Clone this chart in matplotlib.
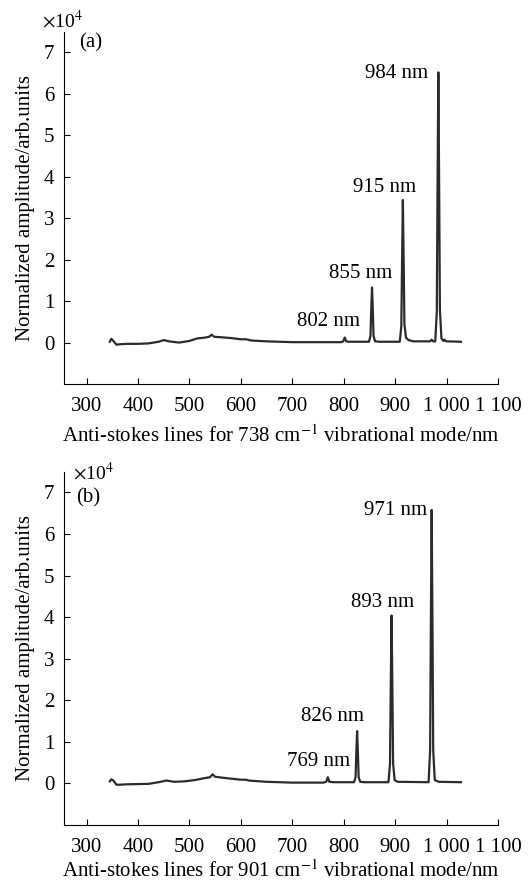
import matplotlib
matplotlib.use("Agg")
import matplotlib.pyplot as plt

plt.rcParams['font.family'] = ['Liberation Serif', 'DejaVu Serif']
plt.rcParams['mathtext.fontset'] = 'stix'

# spectrum (a), 738 cm-1 mode
xa = [345, 348, 352, 358, 365, 380, 400, 420, 440, 450, 460, 480, 500, 515, 530,
      538, 543, 548, 560, 580, 600, 610, 620, 650, 700, 750, 795, 799, 802, 805,
      810, 849, 852, 853.5, 855, 856.5, 858, 861, 870, 909, 912, 913.5, 915, 916.5,
      918, 921, 926, 935, 968, 971, 974, 978, 981, 982.5, 984, 985.5, 987, 990,
      994, 996, 999, 1028]
ya = [0.02, 0.09, 0.04, -0.05, -0.04, -0.03, -0.03, -0.02, 0.02, 0.06, 0.03, 0.0, 0.04, 0.1, 0.12,
      0.14, 0.19, 0.14, 0.13, 0.11, 0.08, 0.08, 0.05, 0.03, 0.01, 0.01, 0.01, 0.03, 0.12, 0.03,
      0.02, 0.02, 0.16, 0.8, 1.33, 0.8, 0.16, 0.03, 0.02, 0.02, 0.4, 2.0, 3.44, 2.0,
      0.45, 0.12, 0.06, 0.03, 0.03, 0.07, 0.03, 0.03, 0.75, 3.9, 6.52, 3.9, 0.8, 0.1,
      0.04, 0.07, 0.03, 0.02]

# spectrum (b), 901 cm-1 mode
xb = [345, 348, 352, 358, 365, 380, 420, 440, 455, 470, 490, 510, 530, 540, 545,
      550, 570, 600, 610, 615, 650, 700, 760, 766, 769, 772, 780, 820, 823, 824.5,
      826, 827.5, 829, 832, 840, 887, 890, 891.5, 893, 894.5, 896, 899, 905, 965,
      968, 969.5, 971, 972.5, 974, 977, 985, 1028]
yb = [0.05, 0.1, 0.07, -0.03, -0.03, -0.02, -0.01, 0.03, 0.07, 0.04, 0.05, 0.08, 0.13, 0.15, 0.22,
      0.16, 0.13, 0.09, 0.09, 0.07, 0.04, 0.02, 0.02, 0.04, 0.15, 0.04, 0.03, 0.03, 0.15, 0.75,
      1.26, 0.75, 0.15, 0.04, 0.03, 0.03, 0.48, 2.4, 4.04, 2.4, 0.48, 0.08, 0.04, 0.03,
      0.8, 3.95, 6.58, 3.95, 0.8, 0.08, 0.04, 0.03]

peaks_a = ["802 nm", "855 nm", "915 nm", "984 nm"]
peaks_b = ["769 nm", "826 nm", "893 nm", "971 nm"]

xticks = [300, 400, 500, 600, 700, 800, 900, 1000, 1100]
xticklabels = ["300", "400", "500", "600", "700", "800", "900", "1 000", "1 100"]
yticks = [0, 1, 2, 3, 4, 5, 6, 7]

fig = plt.figure(figsize=(5.29, 8.82), dpi=100)
ax1 = fig.add_axes([0.121, 0.5646, 0.8204, 0.3994])
ax2 = fig.add_axes([0.121, 0.0646, 0.8204, 0.4006])

fs = 15

def style(ax, mode, xpad):
    ax.set_xlim(256, 1100)
    ax.set_ylim(-1, 7.5)
    ax.spines['top'].set_visible(False)
    ax.spines['right'].set_visible(False)
    ax.set_xticks(xticks)
    ax.set_xticklabels(xticklabels)
    ax.set_yticks(yticks)
    ax.tick_params(direction='in', length=4, width=0.8, labelsize=fs)
    ax.tick_params(axis='x', pad=9)
    ax.tick_params(axis='y', pad=7)
    ax.set_ylabel("Normalized amplitude/arb.units", fontsize=fs, labelpad=6)
    ax.set_xlabel("Anti-stokes lines for %d cm$^{-1}$ vibrational mode/nm" % mode,
                  fontsize=fs, labelpad=xpad)

ax1.plot(xa, ya, color='#2b2b2b', lw=1.6)
style(ax1, 738, 7)
ax1.text(770, 0.50, peaks_a[0], ha='center', va='center', fontsize=fs)
ax1.text(832, 1.67, peaks_a[1], ha='center', va='center', fontsize=fs)
ax1.text(880, 3.73, peaks_a[2], ha='center', va='center', fontsize=fs)
ax1.text(964, 6.50, peaks_a[3], ha='right', va='center', fontsize=fs)

ax2.plot(xb, yb, color='#2b2b2b', lw=1.6)
style(ax2, 901, 3)
ax2.text(752, 0.52, peaks_b[0], ha='center', va='center', fontsize=fs)
ax2.text(779, 1.62, peaks_b[1], ha='center', va='center', fontsize=fs)
ax2.text(876, 4.36, peaks_b[2], ha='center', va='center', fontsize=fs)
ax2.text(962, 6.56, peaks_b[3], ha='right', va='center', fontsize=fs)

fig.text(0.079, 0.977, r"$\times$10$^4$", fontsize=14, ha='left', va='center')
fig.text(0.149, 0.951, "(a)", fontsize=fs, ha='left', va='center')
fig.text(0.138, 0.464, r"$\times$10$^4$", fontsize=14, ha='left', va='center')
fig.text(0.144, 0.435, "(b)", fontsize=fs, ha='left', va='center')

fig.savefig("out.png", dpi=100)
